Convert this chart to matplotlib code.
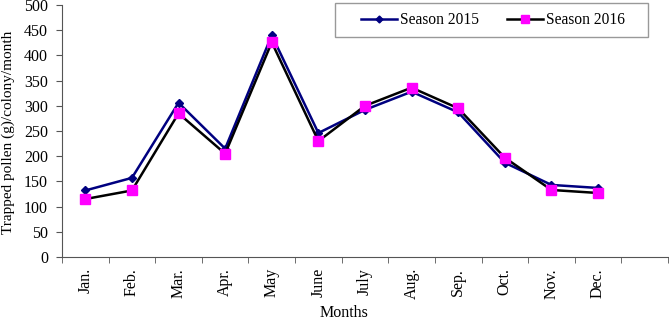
import numpy as np
import matplotlib
matplotlib.use("Agg")
import matplotlib.pyplot as plt
from matplotlib.patches import Rectangle

plt.rcParams['font.family'] = ['Liberation Serif', 'DejaVu Serif']

months = ["Jan.", "Feb.", "Mar.", "Apr.", "May", "June", "July", "Aug.",
          "Sep.", "Oct.", "Nov.", "Dec."]
season_2015 = [132, 157, 306, 215, 440, 246, 292, 328, 287, 187, 143, 137]
season_2016 = [115, 132, 285, 205, 426, 230, 300, 336, 295, 197, 133, 127]
yticks = list(range(0, 501, 50))

W, H = 669, 323
fig = plt.figure(figsize=(W/100, H/100), dpi=100)
ax = fig.add_axes([62/W, 66/H, 606/W, 252/H])

x = np.arange(len(months))
ax.plot(x, season_2015, color="#000080", lw=1.8, marker="D", ms=4,
        mfc="#000080", mec="#000080", label="Season 2015")
ax.plot(x, season_2016, color="black", lw=1.8, marker="s", ms=6.5,
        mfc="#ff00ff", mec="#ff00ff", label="Season 2016")

ax.set_xlim(-0.5, 12.5)
ax.set_ylim(0, 500)
ax.set_yticks(yticks)
ax.tick_params(axis="y", labelsize=11.5, direction="out", length=4, pad=6)

ax.set_xticks(x)
ax.set_xticklabels(months, rotation=90, fontsize=11.5)
ax.tick_params(axis="x", which="major", length=0, pad=8)
ax.set_xticks(np.arange(-0.5, 13, 1), minor=True)
ax.tick_params(axis="x", which="minor", direction="out", length=4)

for s in ["top", "right"]:
    ax.spines[s].set_visible(False)
for s in ["left", "bottom"]:
    ax.spines[s].set_color("#555555")
    ax.spines[s].set_linewidth(0.8)
ax.tick_params(which="both", color="#555555")

# axis titles placed by hand to match the original layout
fig.text(8/W, 1 - 132/H, "Trapped pollen (g)/colony/month", rotation=90,
         ha="center", va="center", fontsize=11)
fig.text(344/W, 1 - 313/H, "Months", ha="center", va="center", fontsize=11.5)

# legend box
fig.patches.append(Rectangle((335/W, 1 - 37/H), 313/W, 34/H,
                             transform=fig.transFigure, fill=False,
                             edgecolor="#999999", lw=1.0))
leg = ax.legend(loc="center", bbox_to_anchor=(493/W, 1 - 20/H),
                bbox_transform=fig.transFigure, ncol=2, fontsize=11.2,
                frameon=False, handlelength=2.3, handletextpad=0.2,
                columnspacing=1.8)
leg.legend_handles[0].set_markersize(3.5)
leg.legend_handles[1].set_markersize(5.5)

fig.savefig("out.png", dpi=100)
